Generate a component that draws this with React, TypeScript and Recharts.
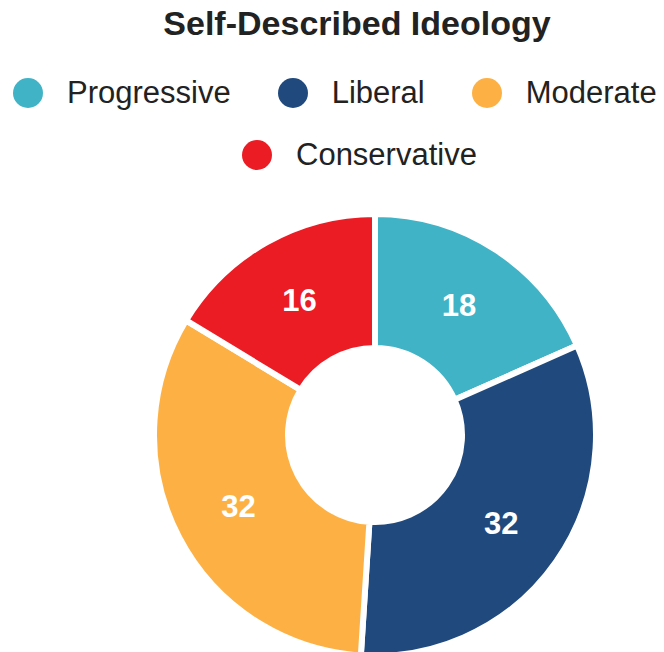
import { PieChart, Pie, Cell, Legend } from "recharts";

const categories = ["Progressive", "Liberal", "Moderate", "Conservative"];
const values = [18, 32, 32, 16];
const colors = ["#40B3C6", "#204A7D", "#FDB145", "#EC1C24"];

const data = categories.map((name, i) => ({ name, value: values[i] }));

const RADIAN = Math.PI / 180;

const renderLabel = (props: any) => {
    const { cx, cy, midAngle, innerRadius, outerRadius, value } = props;
    const r = (innerRadius + outerRadius) / 2;
    const x = cx + r * Math.cos(-midAngle * RADIAN);
    const y = cy + r * Math.sin(-midAngle * RADIAN);
    return (
        <text
            x={x}
            y={y}
            fill="#fff"
            textAnchor="middle"
            dominantBaseline="central"
            fontFamily="'Liberation Sans', Arial, sans-serif"
            fontWeight="bold"
            fontSize={31}
        >
            {value}
        </text>
    );
};

const renderLegend = (props: any) => {
    // keep the legend in the same order as the categories
    const payload = [...(props.payload || [])].sort(
        (a: any, b: any) => categories.indexOf(a.value) - categories.indexOf(b.value)
    );
    const rows = [payload.slice(0, 3), payload.slice(3)];
    const offsets = [13, 242];
    return (
        <div style={{ fontFamily: "'Liberation Sans', Arial, sans-serif", fontSize: 31, color: "#222" }}>
            {rows.map((row: any[], ri: number) => (
                <div key={ri} style={{ display: "flex", marginLeft: offsets[ri], marginBottom: ri === 0 ? 31 : 0, lineHeight: "31px" }}>
                    {row.map((entry: any, i: number) => {
                        const idx = categories.indexOf(entry.value);
                        return (
                            <div key={i} style={{ display: "flex", alignItems: "center", marginRight: 47, whiteSpace: "nowrap" }}>
                                <span style={{ width: 30, height: 30, borderRadius: "50%", background: colors[idx], marginRight: 24, display: "inline-block" }} />
                                <span>{entry.value}</span>
                            </div>
                        );
                    })}
                </div>
            ))}
        </div>
    );
};

export default function App() {
    return (
        <div style={{ position: "absolute", top: 0, left: 0, width: 664, height: 652, background: "#fff", overflow: "hidden" }}>
            <div
                style={{
                    position: "absolute",
                    top: 6,
                    left: 0,
                    width: 714,
                    textAlign: "center",
                    fontFamily: "'Liberation Sans', Arial, sans-serif",
                    fontWeight: "bold",
                    fontSize: 34,
                    lineHeight: "34px",
                    color: "#222",
                }}
            >
                Self-Described Ideology
            </div>
            <PieChart width={664} height={652} margin={{ top: 0, right: 0, bottom: 0, left: 0 }}>
                <Legend
                    content={renderLegend}
                    wrapperStyle={{ position: "absolute", top: 77, left: 0, width: 664 }}
                />
                <Pie
                    data={data}
                    dataKey="value"
                    nameKey="name"
                    cx={375}
                    cy={435}
                    innerRadius={87}
                    outerRadius={221}
                    startAngle={90}
                    endAngle={-270}
                    stroke="#fff"
                    strokeWidth={6}
                    label={renderLabel}
                    labelLine={false}
                    isAnimationActive={false}
                >
                    {data.map((entry, i) => (
                        <Cell key={entry.name} fill={colors[i]} />
                    ))}
                </Pie>
            </PieChart>
        </div>
    );
}
